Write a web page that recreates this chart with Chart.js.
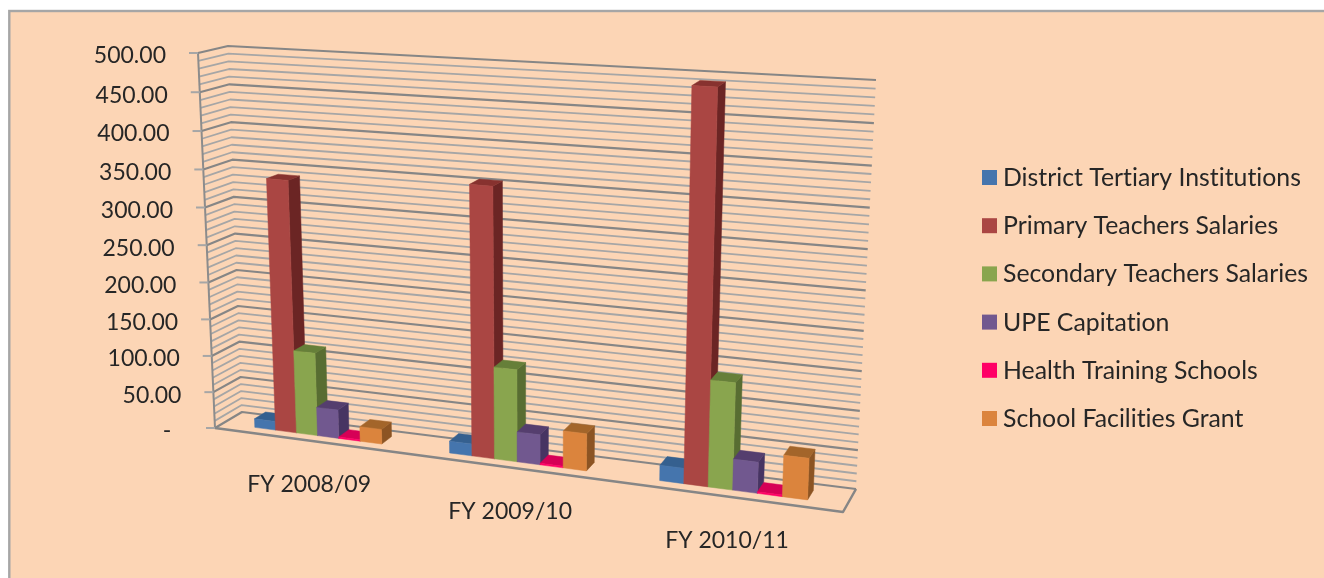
<!DOCTYPE html>
<html>
<head>
<meta charset="utf-8">
<title>Education grants by programme</title>
<script src="https://cdn.jsdelivr.net/npm/chart.js@4/dist/chart.umd.js"></script>
<style>
  html, body { margin: 0; padding: 0; background: #fff; }
  canvas { display: block; }
</style>
</head>
<body>
<canvas id="chart" width="1324" height="578"></canvas>
<script>
const years = ['FY 2008/09', 'FY 2009/10', 'FY 2010/11'];

const districtTertiary = [12, 16, 20];
const primarySalaries = [340, 354, 493];
const secondarySalaries = [113, 122, 137];
const upeCapitation = [39, 40, 40];
const healthTraining = [2, 2, 2];
const facilitiesGrant = [20, 49, 53];

const seriesNames = [
  'District Tertiary Institutions',
  'Primary Teachers Salaries',
  'Secondary Teachers Salaries',
  'UPE Capitation',
  'Health Training Schools',
  'School Facilities Grant'
];
const seriesValues = [districtTertiary, primarySalaries, secondarySalaries, upeCapitation, healthTraining, facilitiesGrant];

// front, side, top face of each series
const faceColors = [
  ['#4575ad', '#35608f', '#35608f'],
  ['#aa4643', '#6b2524', '#87322f'],
  ['#89a54e', '#586d32', '#667f39'],
  ['#71588f', '#473462', '#553e6e'],
  ['#ff0066', '#a80044', '#d60056'],
  ['#db843d', '#8c5423', '#a3652a']
];

const FONT = 'Lato, sans-serif';
const TEXT = '#262626';

// corners of the 3D box: top-left, top-right, bottom-right, bottom-left
const frontQuad = [[198, 53], [860, 94], [843, 512], [215, 428]];
const backQuad = [[228, 46], [876, 80], [856, 489], [242, 412]];
const BAR_FRONT = 0.3;
const BAR_BACK = 0.72;

// unit square -> quad, perspective transform
function quadMap(q) {
  const [[x0, y0], [x1, y1], [x2, y2], [x3, y3]] = q;
  const dx1 = x1 - x2, dx2 = x3 - x2, sx = x0 - x1 + x2 - x3;
  const dy1 = y1 - y2, dy2 = y3 - y2, sy = y0 - y1 + y2 - y3;
  const den = dx1 * dy2 - dx2 * dy1;
  const g = (sx * dy2 - dx2 * sy) / den;
  const h = (dx1 * sy - sx * dy1) / den;
  const a = x1 - x0 + g * x1, b = x3 - x0 + h * x3;
  const d = y1 - y0 + g * y1, e = y3 - y0 + h * y3;
  return (u, v) => {
    const w = g * u + h * v + 1;
    return [(a * u + b * v + x0) / w, (d * u + e * v + y0) / w];
  };
}

function planeAt(depth) {
  return quadMap(frontQuad.map((p, i) => [
    p[0] + (backQuad[i][0] - p[0]) * depth,
    p[1] + (backQuad[i][1] - p[1]) * depth
  ]));
}

function poly(ctx, pts, fill) {
  ctx.beginPath();
  pts.forEach((p, i) => i ? ctx.lineTo(p[0], p[1]) : ctx.moveTo(p[0], p[1]));
  ctx.closePath();
  ctx.fillStyle = fill;
  ctx.fill();
  ctx.strokeStyle = fill;
  ctx.lineWidth = 0.5;
  ctx.stroke();
}

function line(ctx, pts, color, width) {
  ctx.beginPath();
  pts.forEach((p, i) => i ? ctx.lineTo(p[0], p[1]) : ctx.moveTo(p[0], p[1]));
  ctx.strokeStyle = color;
  ctx.lineWidth = width;
  ctx.stroke();
}

const box3d = {
  id: 'box3d',
  beforeDraw(chart) {
    const ctx = chart.ctx;
    ctx.save();
    ctx.fillStyle = '#fcd5b5';
    ctx.fillRect(9, 11, 1315, 567);
    ctx.strokeStyle = '#a6a6a6';
    ctx.lineWidth = 2.4;
    ctx.strokeRect(9.3, 11, 1330, 590);
    ctx.restore();
  },
  // bars are painted here as boxes, so the flat ones are skipped
  beforeDatasetsDraw(chart) {
    const ctx = chart.ctx;
    const area = chart.chartArea;
    const yScale = chart.scales.y;
    const front = quadMap(frontQuad);
    const back = quadMap(backQuad);
    const barFront = planeAt(BAR_FRONT);
    const barBack = planeAt(BAR_BACK);
    const U = x => (x - area.left) / area.width;
    const V = y => (y - area.top) / area.height;

    ctx.save();
    ctx.lineJoin = 'round';
    // keeps the "ti" pairs as separate letters
    ctx.letterSpacing = '0.01px';

    // gridlines around the walls, minor first
    const ticks = yScale.ticks.slice().sort((a, b) => (a.label ? 1 : 0) - (b.label ? 1 : 0));
    ticks.forEach(t => {
      const v = V(yScale.getPixelForValue(t.value));
      const pts = [front(0, v), back(0, v), back(1, v)];
      if (t.label) {
        line(ctx, pts, '#868686', 2.2);
      } else {
        line(ctx, pts, '#a6a6a6', 1.8);
      }
    });

    // axis edge, floor outline and tick marks
    line(ctx, [front(0, 0), front(0, 1)], '#8c8c8c', 2);
    line(ctx, [front(0, 1), front(1, 1), back(1, 1)], '#868686', 2.5);

    ctx.font = '23px ' + FONT;
    ctx.fillStyle = TEXT;
    ctx.textAlign = 'right';
    ctx.textBaseline = 'middle';
    yScale.ticks.forEach(t => {
      if (!t.label) return;
      const p = front(0, V(yScale.getPixelForValue(t.value)));
      line(ctx, [[p[0] - 9, p[1]], p], '#a6a6a6', 2);
      ctx.fillStyle = TEXT;
      ctx.fillText(t.label, p[0] - 32, p[1] + 3);
    });

    // boxes, left to right so each front face covers its neighbour's side
    const count = chart.data.labels.length;
    for (let c = 0; c < count; c++) {
      chart.data.datasets.forEach((ds, s) => {
        const bar = chart.getDatasetMeta(s).data[c];
        const x0 = U(bar.x - bar.width / 2), x1 = U(bar.x + bar.width / 2);
        const top = V(bar.y), base = V(bar.base);
        const [cf, cs, ct] = faceColors[s];
        poly(ctx, [barFront(x1, top), barBack(x1, top), barBack(x1, base), barFront(x1, base)], cs);
        poly(ctx, [barFront(x0, top), barBack(x0, top), barBack(x1, top), barFront(x1, top)], ct);
        poly(ctx, [barFront(x0, top), barFront(x1, top), barFront(x1, base), barFront(x0, base)], cf);
      });
    }

    // category labels hang below the front floor edge
    ctx.font = '23px ' + FONT;
    ctx.fillStyle = TEXT;
    ctx.textAlign = 'center';
    ctx.textBaseline = 'middle';
    chart.data.labels.forEach((label, i) => {
      const p = front(U(chart.scales.x.getPixelForValue(i)), 1);
      ctx.fillText(label, p[0] - 1, p[1] + 43.5);
    });

    // legend column
    const legendX = 982, legendY = 177.5, legendStep = 48.2;
    ctx.font = '24.8px ' + FONT;
    ctx.textAlign = 'left';
    chart.data.datasets.forEach((ds, s) => {
      const y = legendY + s * legendStep;
      ctx.fillStyle = faceColors[s][0];
      ctx.fillRect(legendX, y - 7.5, 15, 15);
      ctx.fillStyle = TEXT;
      ctx.fillText(ds.label, legendX + 21, y + 0.5);
    });

    ctx.restore();
    return false;
  }
};

new Chart(document.getElementById('chart'), {
  type: 'bar',
  data: {
    labels: years,
    datasets: seriesNames.map((name, i) => ({
      label: name,
      data: seriesValues[i],
      backgroundColor: faceColors[i][0]
    }))
  },
  options: {
    responsive: false,
    animation: false,
    categoryPercentage: 0.66,
    barPercentage: 1,
    layout: { padding: 0 },
    plugins: { legend: { display: false }, tooltip: { enabled: false } },
    scales: {
      x: { display: false, grid: { offset: true } },
      y: {
        display: false,
        min: 0,
        max: 500,
        ticks: {
          stepSize: 10,
          autoSkip: false,
          // zero shows as a dash, set in from the other labels
          callback: v => v % 50 !== 0 ? '' : (v === 0 ? '-  ' : v.toFixed(2))
        }
      }
    }
  },
  plugins: [box3d]
});
</script>
</body>
</html>
